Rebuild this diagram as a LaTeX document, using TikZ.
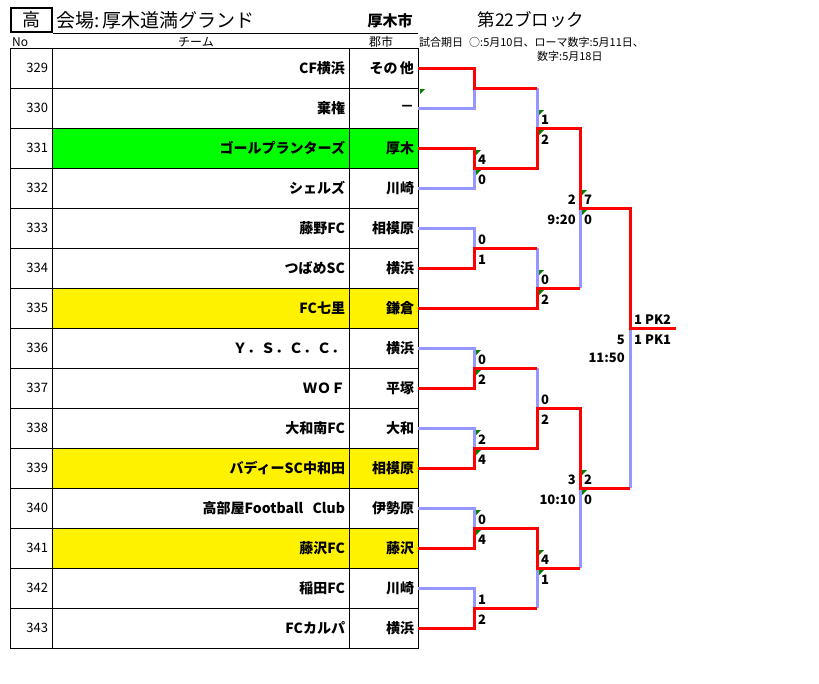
\documentclass[tikz,border=0pt]{standalone}
\usepackage{fontspec}
\setmainfont{Noto Sans CJK JP}
\usepackage{tikz}
\usetikzlibrary{positioning}
\definecolor{lose}{RGB}{150,150,255}
\definecolor{lime}{RGB}{0,255,0}
\definecolor{errgreen}{RGB}{0,128,0}
\tikzstyle{cell} = [rectangle, draw=black, line width=1pt, outer sep=0pt, minimum height=40pt, inner xsep=4pt, inner ysep=0pt, align=right]
\tikzstyle{nocell} = [cell, text width=34pt, font=\fontsize{13}{13}\selectfont]
\tikzstyle{teamcell} = [cell, text width=289pt, font=\fontsize{14}{14}\selectfont\bfseries]
\tikzstyle{citycell} = [cell, text width=61pt, font=\fontsize{14}{14}\selectfont\bfseries]
\tikzstyle{head} = [inner sep=0pt, font=\fontsize{12}{12}\selectfont]
\tikzstyle{note} = [inner sep=0pt, anchor=west, font=\fontsize{11}{11}\selectfont]
\tikzstyle{win} = [draw=red, line width=3pt]
\tikzstyle{lose} = [draw=lose, line width=3pt]
\tikzstyle{score} = [inner sep=0pt, anchor=west, font=\fontsize{13}{13}\selectfont\bfseries]
\tikzstyle{slot} = [inner sep=0pt, anchor=east, font=\fontsize{13}{13}\selectfont\bfseries]
\tikzstyle{err} = [fill=errgreen]
% green marks on the score cells
\newcommand{\errmarks}[1]{%
  \fill[err] ([shift={(2,-18)}]#1) -- ++(5,0) -- ++(-5,5) -- cycle;
  \fill[err] ([shift={(2,2)}]#1) -- ++(5,0) -- ++(-5,5) -- cycle;}

\begin{document}
\begin{tikzpicture}[x=1pt, y=-1pt]
\useasboundingbox[fill=white] (0,0) rectangle (819,683);

% title
\node (kou) [draw, line width=2pt, minimum width=41pt, minimum height=24pt, inner sep=0pt, font=\fontsize{18}{18}\selectfont] at (31.5,20) {高};
\node (venue) [anchor=west, inner sep=0pt, font=\fontsize{19}{19}\selectfont] at (56,20) {会場:\,厚木道満グランド};
\node (town) [inner sep=0pt, font=\fontsize{15}{15}\selectfont\bfseries] at (390,21) {厚木市};
\node (block) [inner sep=0pt, font=\fontsize{17.5}{17.5}\selectfont] at (531,20) {第22ブロック};
\node (note1) [note] at (419,42) {試合期日\hspace{6pt}○:5月10日、ローマ数字:5月11日、};
\node (note2) [note] at (537,56) {数字:5月18日};
\node (hno) [head, anchor=west] at (12,42) {No};
\node (hteam) [head] at (196,42) {チーム};
\node (hcity) [head] at (381,42) {郡市};

% table
\node (n329) [nocell] at (31,68) {329};
\node (t329) [teamcell, right=0pt of n329] {CF横浜};
\node (c329) [citycell, right=0pt of t329] {その\,他};
\node (n330) [nocell, below=0pt of n329] {330};
\node (t330) [teamcell, right=0pt of n330] {棄権};
\node (c330) [citycell, right=0pt of t330] {－};
\node (n331) [nocell, below=0pt of n330] {331};
\node (t331) [teamcell, fill=lime, right=0pt of n331] {ゴールプランターズ};
\node (c331) [citycell, fill=lime, right=0pt of t331] {厚木};
\node (n332) [nocell, below=0pt of n331] {332};
\node (t332) [teamcell, right=0pt of n332] {シェルズ};
\node (c332) [citycell, right=0pt of t332] {川崎};
\node (n333) [nocell, below=0pt of n332] {333};
\node (t333) [teamcell, right=0pt of n333] {藤野FC};
\node (c333) [citycell, right=0pt of t333] {相模原};
\node (n334) [nocell, below=0pt of n333] {334};
\node (t334) [teamcell, right=0pt of n334] {つばめSC};
\node (c334) [citycell, right=0pt of t334] {横浜};
\node (n335) [nocell, below=0pt of n334] {335};
\node (t335) [teamcell, fill=yellow, right=0pt of n335] {FC七里};
\node (c335) [citycell, fill=yellow, right=0pt of t335] {鎌倉};
\node (n336) [nocell, below=0pt of n335] {336};
\node (t336) [teamcell, right=0pt of n336] {Ｙ．Ｓ．Ｃ．Ｃ．};
\node (c336) [citycell, right=0pt of t336] {横浜};
\node (n337) [nocell, below=0pt of n336] {337};
\node (t337) [teamcell, right=0pt of n337] {ＷＯＦ};
\node (c337) [citycell, right=0pt of t337] {平塚};
\node (n338) [nocell, below=0pt of n337] {338};
\node (t338) [teamcell, right=0pt of n338] {大和南FC};
\node (c338) [citycell, right=0pt of t338] {大和};
\node (n339) [nocell, below=0pt of n338] {339};
\node (t339) [teamcell, fill=yellow, right=0pt of n339] {バディーSC中和田};
\node (c339) [citycell, fill=yellow, right=0pt of t339] {相模原};
\node (n340) [nocell, below=0pt of n339] {340};
\node (t340) [teamcell, right=0pt of n340] {高部屋Football\ \ Club};
\node (c340) [citycell, right=0pt of t340] {伊勢原};
\node (n341) [nocell, below=0pt of n340] {341};
\node (t341) [teamcell, fill=yellow, right=0pt of n341] {藤沢FC};
\node (c341) [citycell, fill=yellow, right=0pt of t341] {藤沢};
\node (n342) [nocell, below=0pt of n341] {342};
\node (t342) [teamcell, right=0pt of n342] {稲田FC};
\node (c342) [citycell, right=0pt of t342] {川崎};
\node (n343) [nocell, below=0pt of n342] {343};
\node (t343) [teamcell, right=0pt of n343] {FCカルパ};
\node (c343) [citycell, right=0pt of t343] {横浜};
\draw[line width=1pt] (kou.south east) -- (kou.south east -| c329.east);

% bracket joints
\coordinate (r1a) at (474,88);
\coordinate (r1b) at (474,168);
\coordinate (r1c) at (474,248);
\coordinate (r1d) at (474,368);
\coordinate (r1e) at (474,448);
\coordinate (r1f) at (474,528);
\coordinate (r1g) at (474,608);
\coordinate (r2a) at (537,128);
\coordinate (r2b) at (537,288);
\coordinate (r2c) at (537,408);
\coordinate (r2d) at (537,568);
\coordinate (r3a) at (580,208);
\coordinate (r3b) at (580,488);
\coordinate (fin) at (630,328);
\coordinate (champ) at (676,328);

% lost
\draw[lose] (c330.east) -| (r1a);
\draw[lose] (c332.east) -| (r1b);
\draw[lose] (c333.east) -| (r1c);
\draw[lose] (c336.east) -| (r1d);
\draw[lose] (c338.east) -| (r1e);
\draw[lose] (c340.east) -| (r1f);
\draw[lose] (c342.east) -| (r1g);
\draw[lose] (r1a -| r2a) -- (r2a);
\draw[lose] (r1c -| r2b) -- (r2b);
\draw[lose] (r1d -| r2c) -- (r2c);
\draw[lose] (r1g -| r2d) -- (r2d);
\draw[lose] (r2b -| r3a) -- (r3a);
\draw[lose] (r2d -| r3b) -- (r3b);
\draw[lose] (r3b -| fin) -- (fin);

% won
\draw[win] (c329.east) -| (r1a) -- (r1a -| r2a);
\draw[win] (c331.east) -| (r1b) -| (r2a) -| (r3a) -| (fin) -- (champ);
\draw[win] (c334.east) -| (r1c) -- (r1c -| r2b);
\draw[win] (c335.east) -| (r2b) -- (r2b -| r3a);
\draw[win] (c337.east) -| (r1d) -- (r1d -| r2c);
\draw[win] (c339.east) -| (r1e) -| (r2c) -| (r3b) -- (r3b -| fin);
\draw[win] (c341.east) -| (r1f) -| (r2d) -- (r2d -| r3b);
\draw[win] (c343.east) -| (r1g) -- (r1g -| r2d);

% scores
\node (s1bu) [score] at ([shift={(4,-8)}]r1b) {4};
\node (s1bl) [score] at ([shift={(4,12)}]r1b) {0};
\node (s1cu) [score] at ([shift={(4,-8)}]r1c) {0};
\node (s1cl) [score] at ([shift={(4,12)}]r1c) {1};
\node (s1du) [score] at ([shift={(4,-8)}]r1d) {0};
\node (s1dl) [score] at ([shift={(4,12)}]r1d) {2};
\node (s1eu) [score] at ([shift={(4,-8)}]r1e) {2};
\node (s1el) [score] at ([shift={(4,12)}]r1e) {4};
\node (s1fu) [score] at ([shift={(4,-8)}]r1f) {0};
\node (s1fl) [score] at ([shift={(4,12)}]r1f) {4};
\node (s1gu) [score] at ([shift={(4,-8)}]r1g) {1};
\node (s1gl) [score] at ([shift={(4,12)}]r1g) {2};
\node (s2au) [score] at ([shift={(4,-8)}]r2a) {1};
\node (s2al) [score] at ([shift={(4,12)}]r2a) {2};
\node (s2bu) [score] at ([shift={(4,-8)}]r2b) {0};
\node (s2bl) [score] at ([shift={(4,12)}]r2b) {2};
\node (s2cu) [score] at ([shift={(4,-8)}]r2c) {0};
\node (s2cl) [score] at ([shift={(4,12)}]r2c) {2};
\node (s2du) [score] at ([shift={(4,-8)}]r2d) {4};
\node (s2dl) [score] at ([shift={(4,12)}]r2d) {1};
\node (s3au) [score] at ([shift={(4,-8)}]r3a) {7};
\node (s3al) [score] at ([shift={(4,12)}]r3a) {0};
\node (s3bu) [score] at ([shift={(4,-8)}]r3b) {2};
\node (s3bl) [score] at ([shift={(4,12)}]r3b) {0};
\node (sfu) [score] at ([shift={(4,-8)}]fin) {1 PK2};
\node (sfl) [score] at ([shift={(4,12)}]fin) {1 PK1};

% match numbers and kick-off times
\node (m3a) [slot] at ([shift={(-4,-8)}]r3a) {2};
\node (k3a) [slot] at ([shift={(-4,12)}]r3a) {9:20};
\node (m3b) [slot] at ([shift={(-4,-8)}]r3b) {3};
\node (k3b) [slot] at ([shift={(-4,12)}]r3b) {10:10};
\node (mf) [slot] at ([shift={(-5,12)}]fin) {5};
\node (kf) [slot] at ([shift={(-5,30)}]fin) {11:50};

% error marks
\fill[err] ([shift={(2,1)}]c330.north east) -- ++(5,0) -- ++(-5,5) -- cycle;
\errmarks{r1b}
\errmarks{r1d}
\errmarks{r1e}
\errmarks{r1f}
\errmarks{r2a}
\errmarks{r2b}
\errmarks{r2d}
\errmarks{r3a}
\errmarks{r3b}
\end{tikzpicture}
\end{document}
